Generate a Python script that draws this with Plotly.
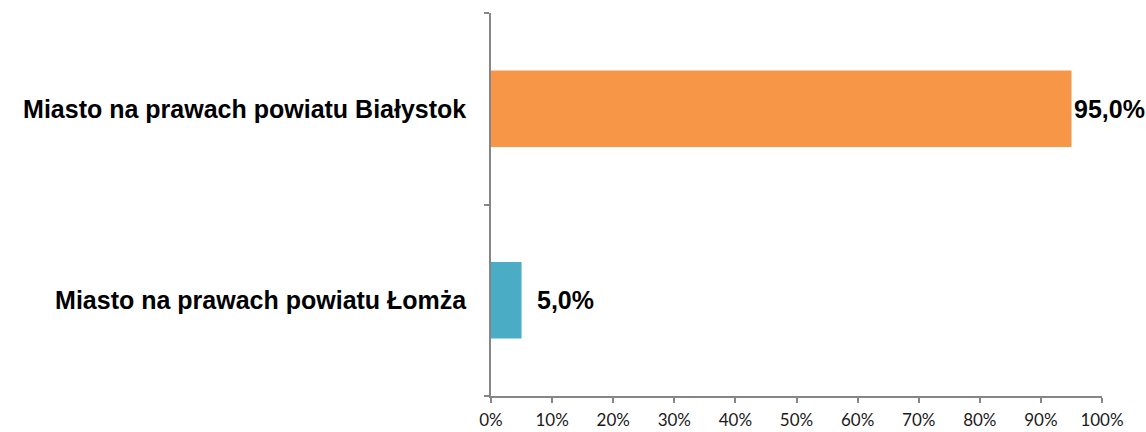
import plotly.graph_objects as go

categories = ["Miasto na prawach powiatu Łomża", "Miasto na prawach powiatu Białystok"]
values = [5.0, 95.0]
colors = ["#4BACC6", "#F79646"]
tick_vals = [0, 10, 20, 30, 40, 50, 60, 70, 80, 90, 100]
tick_text = [f"{v}%" for v in tick_vals]
label_shift = [13, 1]

fig = go.Figure()
fig.add_trace(go.Bar(
    x=values, y=categories, orientation="h",
    marker=dict(color=colors, line=dict(width=0)),
    width=0.4,
))

for v, c, s in zip(values, categories, label_shift):
    fig.add_annotation(
        x=v, y=c, text=f"{v:.1f}".replace(".", ",") + "%",
        showarrow=False, xanchor="left", yanchor="middle", xshift=s,
        font=dict(family="Liberation Sans, Arial", size=25, color="#000000", weight="bold"),
    )

fig.update_layout(
    width=1146, height=432,
    margin=dict(l=491, r=44, t=13, b=36, autoexpand=False),
    plot_bgcolor="white", paper_bgcolor="white",
    showlegend=False, bargap=0.6,
)
fig.update_xaxes(
    range=[0, 100], tickvals=tick_vals, ticktext=tick_text,
    showgrid=False, zeroline=False, automargin=False,
    showline=True, linecolor="#868686", linewidth=1.5,
    ticks="outside", ticklen=5, tickcolor="#868686", tickwidth=1.5,
    ticklabelstandoff=3,
    tickfont=dict(family="Lato, Open Sans, sans-serif", size=17, color="#1a1a1a"),
)
fig.update_yaxes(
    range=[-0.5, 1.5], categoryorder="array", categoryarray=categories,
    showgrid=False, zeroline=False, automargin=False,
    showline=True, linecolor="#868686", linewidth=1.5,
    ticks="outside", ticklen=5, tickcolor="#868686", tickwidth=1.5,
    tickson="boundaries", ticklabelstandoff=18,
    tickfont=dict(family="Liberation Sans, Arial", size=25, color="#000000", weight="bold"),
)

fig.write_html("out.html", config={"displayModeBar": False},
               post_script="document.body.style.margin='0px';")
